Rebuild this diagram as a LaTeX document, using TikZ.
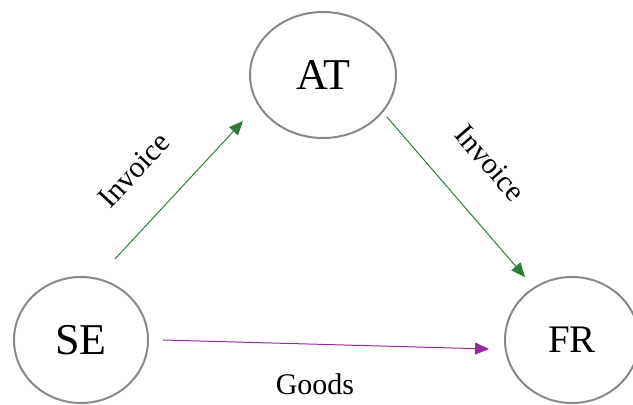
\documentclass[tikz,border=0pt]{standalone}
\usepackage{fontspec}
\setmainfont{Liberation Serif}
\usetikzlibrary{arrows.meta,shapes.geometric}
\definecolor{invoicegreen}{RGB}{46,125,55}
\definecolor{goodspurple}{RGB}{150,40,160}
\definecolor{ringgray}{RGB}{136,136,132}

\begin{document}
\begin{tikzpicture}[x=1pt,y=-1pt,
  country/.style={ellipse,draw=ringgray,line width=2pt,inner sep=0pt,
    minimum width=134pt,minimum height=126pt},
  flow/.style={-{Triangle[length=14pt,width=12pt]},line width=1pt},
  lbl/.style={font=\fontsize{30}{34}\selectfont}]
\useasboundingbox (0,0) rectangle (633,405);

\node[country,minimum width=146pt,font=\fontsize{44}{50}\selectfont] (AT) at (323,75) {AT};
\node[country,font=\fontsize{44}{50}\selectfont] (SE) at (81,340) {SE};
\node[country,font=\fontsize{39}{46}\selectfont] (FR) at (572,340) {FR};

\coordinate (SEout) at (115,259);
\coordinate (ATin) at (243,121);
\coordinate (ATout) at (387,117);
\coordinate (FRin) at (525,277);
\coordinate (SEgoods) at (163,340);
\coordinate (FRgoods) at (489,349);

\draw[flow,invoicegreen] (SEout) -- (ATin);
\draw[flow,invoicegreen] (ATout) -- (FRin);
\draw[flow,goodspurple] (SEgoods) -- (FRgoods);

\node[lbl,rotate=47] (inv1) at (134,170) {Invoice};
\node[lbl,rotate=-49] (inv2) at (490,163) {Invoice};
\node[lbl] (goods) at (315,384) {Goods};
\end{tikzpicture}
\end{document}
